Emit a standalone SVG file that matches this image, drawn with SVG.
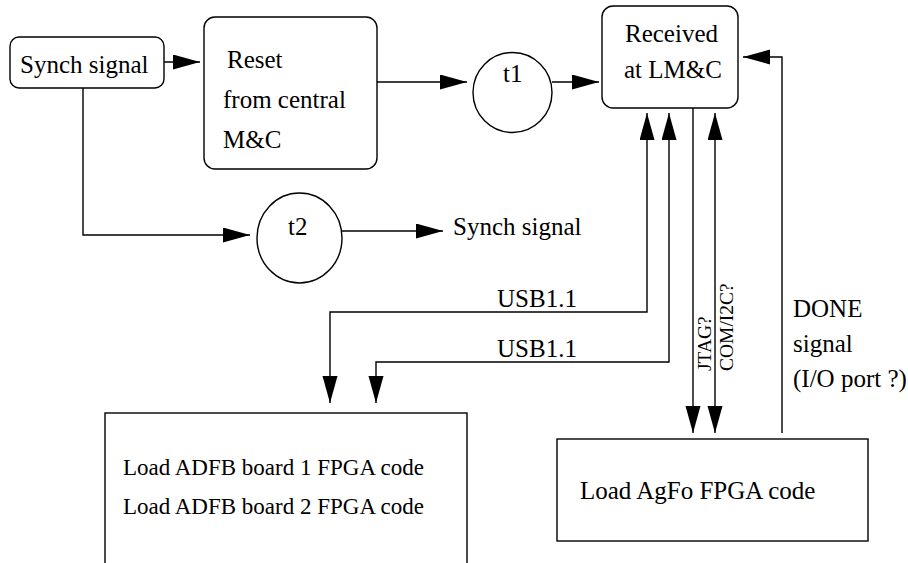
<svg xmlns="http://www.w3.org/2000/svg" width="908" height="563" viewBox="0 0 908 563" font-family="'Liberation Serif', 'Times New Roman', 'DejaVu Serif', serif">
<style>
.box{fill:#fff;stroke:#000;stroke-width:1.4}
.arr{fill:none;stroke:#000;stroke-width:1.4;marker-end:url(#ah)}
.both{marker-start:url(#as)}
text{font-family:'Liberation Serif','Times New Roman','DejaVu Serif',serif;font-size:25px;fill:#000}
.sm{font-size:19.5px}
.md{font-size:23px}
</style>
<defs>
<marker id="ah" markerUnits="userSpaceOnUse" markerWidth="28" markerHeight="16" refX="27" refY="7.5" orient="auto">
<path d="M0,0 L27,7.5 L0,15 z" fill="#000"/>
</marker>
<marker id="as" markerUnits="userSpaceOnUse" markerWidth="28" markerHeight="16" refX="27" refY="7.5" orient="auto-start-reverse">
<path d="M0,0 L27,7.5 L0,15 z" fill="#000"/>
</marker>
</defs>
<g id="connectors">
<line class="arr" x1="164" y1="62" x2="200" y2="62"/>
<line class="arr" x1="377" y1="82" x2="467" y2="82"/>
<line class="arr" x1="552" y1="82" x2="599" y2="82"/>
<polyline class="arr" points="83,88 83,235 250,235"/>
<line class="arr" x1="342" y1="231" x2="443" y2="231"/>
<polyline class="arr both" points="647,113 647,312 330,312 330,403"/>
<polyline class="arr both" points="669,113 669,362 376,362 376,403"/>
<line class="arr" x1="693" y1="108" x2="693" y2="433"/>
<line class="arr both" x1="715" y1="113" x2="715" y2="433"/>
<polyline class="arr" points="782,433 782,57 743,57"/>
<text x="497" y="307">USB1.1</text>
<text x="497" y="357">USB1.1</text>
<text class="sm" transform="translate(711,371) rotate(-90)">JTAG?</text>
<text class="sm" transform="translate(733,371) rotate(-90)">COM/I2C?</text>
<text x="793" y="317">DONE</text>
<text x="793" y="352">signal</text>
<text x="793" y="387">(I/O port ?)</text>
<text x="453" y="235">Synch signal</text>
</g>
<g id="synch">
<rect class="box" x="10" y="37" width="154" height="51" rx="9"/>
<text x="20" y="73">Synch signal</text>
</g>
<g id="reset">
<rect class="box" x="204" y="17" width="173" height="152" rx="11"/>
<text x="227" y="68">Reset</text>
<text x="223" y="108">from central</text>
<text x="223" y="148">M&amp;C</text>
</g>
<g id="t1">
<ellipse class="box" cx="512.5" cy="92.5" rx="39.5" ry="40"/>
<text x="503" y="82">t1</text>
</g>
<g id="t2">
<ellipse class="box" cx="299.5" cy="238" rx="42.5" ry="45"/>
<text x="288" y="235">t2</text>
</g>
<g id="received">
<rect class="box" x="602" y="6" width="136" height="102" rx="11"/>
<text x="625" y="42">Received</text>
<text x="624" y="78">at LM&amp;C</text>
</g>
<g id="adfb">
<rect class="box" x="105" y="413" width="362" height="170"/>
<text class="md" x="123" y="475">Load ADFB board 1 FPGA code</text>
<text class="md" x="123" y="514">Load ADFB board 2 FPGA code</text>
</g>
<g id="agfo">
<rect class="box" x="557" y="439" width="311" height="102"/>
<text x="580" y="499">Load AgFo FPGA code</text>
</g>
</svg>
